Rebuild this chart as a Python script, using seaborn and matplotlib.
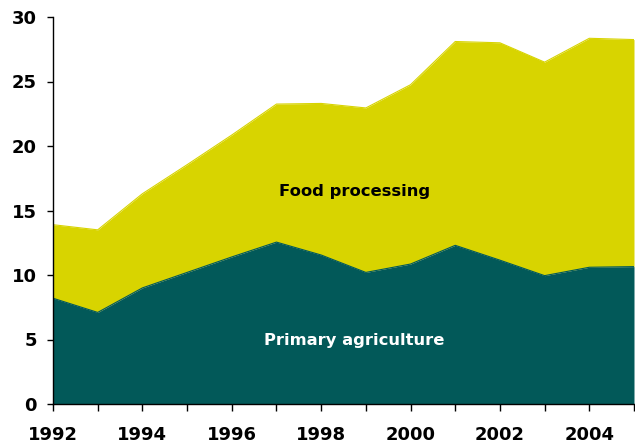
import matplotlib
matplotlib.use("Agg")
import matplotlib.pyplot as plt
import seaborn as sns
import numpy as np
import pandas as pd

years = [1992, 1993, 1994, 1995, 1996, 1997, 1998, 1999, 2000, 2001, 2002, 2003, 2004, 2005]
primary_agriculture = [8.2, 7.1, 9.0, 10.2, 11.4, 12.55, 11.55, 10.2, 10.85, 12.3, 11.15, 9.95, 10.6, 10.65]
food_processing = [5.7, 6.4, 7.3, 8.35, 9.45, 10.7, 11.75, 12.75, 13.9, 15.8, 16.85, 16.55, 17.75, 17.6]
xtick_labels = ["1992", "", "1994", "", "1996", "", "1998", "", "2000", "", "2002", "", "2004", ""]
yticks = [0, 5, 10, 15, 20, 25, 30]

TEAL = "#025959"
YELLOW = "#D8D400"

df = pd.DataFrame({"year": years, "primary": primary_agriculture, "food": food_processing})
df["total"] = df["primary"] + df["food"]

sns.set_theme(style="ticks")
plt.rcParams["font.family"] = ["DejaVu Sans"]

fig = plt.figure(figsize=(6.35, 4.43), dpi=100)
ax = fig.add_axes([53 / 635, 39 / 443, 581 / 635, 387 / 443])

ax.fill_between(df["year"], 0, df["primary"], color=TEAL, linewidth=0, zorder=2)
ax.fill_between(df["year"], df["primary"], df["total"], color=YELLOW, linewidth=0, zorder=1)
sns.lineplot(data=df, x="year", y="primary", color=TEAL, linewidth=0.8, ax=ax, zorder=3)
sns.lineplot(data=df, x="year", y="total", color=YELLOW, linewidth=0.8, ax=ax, zorder=1)

ax.set_xlim(1992, 2005)
ax.set_ylim(0, 30)
ax.set_xticks(years)
ax.set_xticklabels(xtick_labels)
ax.set_yticks(yticks)
ax.set_yticklabels([str(v) for v in yticks])
ax.set_xlabel("")
ax.set_ylabel("")

for s in ["top", "right"]:
    ax.spines[s].set_visible(False)
for s in ["left", "bottom"]:
    ax.spines[s].set_color("black")
    ax.spines[s].set_linewidth(1.0)
    ax.spines[s].set_zorder(5)

ax.tick_params(axis="x", length=5, width=1, pad=11, labelsize=13, colors="black", direction="out")
ax.tick_params(axis="y", length=4.5, width=1, pad=7, labelsize=13, colors="black", direction="out")
for lab in ax.get_xticklabels() + ax.get_yticklabels():
    lab.set_fontweight("bold")

ax.text(1998.75, 16.12, "Food processing", fontsize=11.8, fontweight="bold", color="black",
        ha="center", va="baseline", zorder=6)
ax.text(1998.75, 4.57, "Primary agriculture", fontsize=11.8, fontweight="bold", color="white",
        ha="center", va="baseline", zorder=6)

fig.savefig("out.png", dpi=100)
